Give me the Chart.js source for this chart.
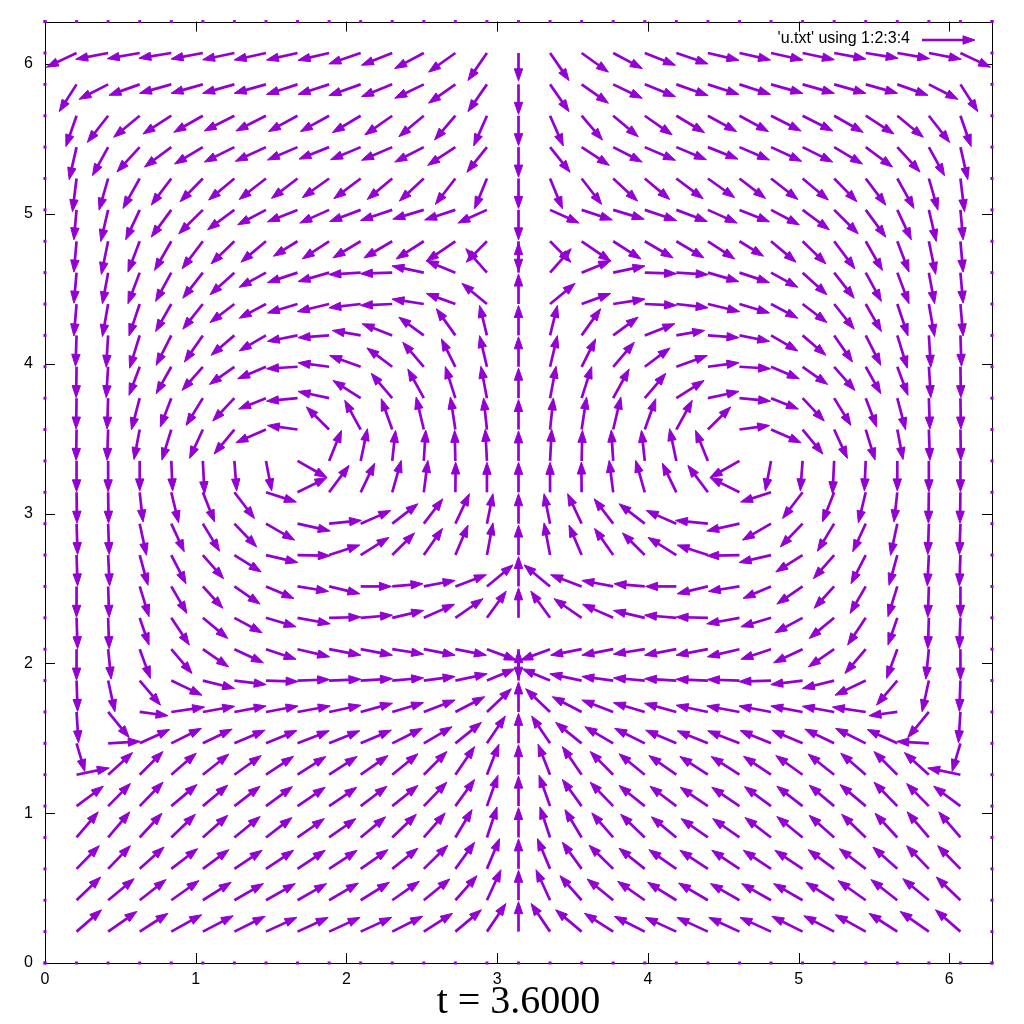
<!DOCTYPE html>
<html><head><meta charset="utf-8">
<script src="https://cdn.jsdelivr.net/npm/chart.js@4/dist/chart.umd.min.js"></script>
<style>html,body{margin:0;padding:0;background:#fff}canvas{display:block}</style>
</head><body>
<canvas id="c" width="1024" height="1024" style="width:1024px;height:1024px"></canvas>
<script>
// grid coordinates (columns 1:2 of u.txt), 0 .. 2*pi in 30 steps
const gridPts = [0,0.2094,0.4189,0.6283,0.8378,1.0472,1.2566,1.4661,1.6755,1.8850,2.0944,2.3038,2.5133,2.7227,2.9322,3.1416,3.3510,3.5605,3.7699,3.9794,4.1888,4.3982,4.6077,4.8171,5.0265,5.2360,5.4454,5.6549,5.8643,6.0737,6.2832];
const xTickVals = [0,1,2,3,4,5,6];
const yTickVals = [0,1,2,3,4,5,6];
const legendLabel = "'u.txt' using 1:2:3:4";
const titleText = "t = 3.6000";
// column 3 (u) – rows bottom (y index 1) to top (y index 29), interior columns x index 1..29
const U = [
[.166,.191,.188,.202,.202,.204,.206,.204,.206,.206,.202,.191,.173,.126,0,-.126,-.173,-.191,-.202,-.206,-.206,-.204,-.206,-.204,-.202,-.202,-.188,-.191,-.166],
[.160,.173,.175,.184,.188,.193,.195,.193,.195,.191,.180,.173,.144,.093,0,-.093,-.144,-.173,-.180,-.191,-.195,-.193,-.195,-.193,-.188,-.184,-.175,-.173,-.160],
[.151,.148,.162,.175,.173,.184,.184,.184,.186,.182,.171,.160,.128,.084,0,-.084,-.128,-.160,-.171,-.182,-.186,-.184,-.184,-.184,-.173,-.175,-.162,-.148,-.151],
[.144,.144,.148,.160,.166,.171,.173,.178,.178,.166,.160,.142,.111,.067,0,-.067,-.111,-.142,-.160,-.166,-.178,-.178,-.173,-.171,-.166,-.160,-.148,-.144,-.144],
[.178,.148,.155,.171,.166,.171,.176,.184,.184,.175,.171,.153,.128,.073,0,-.073,-.128,-.153,-.171,-.175,-.184,-.184,-.176,-.171,-.166,-.171,-.155,-.148,-.178],
[.217,.162,.155,.166,.173,.178,.183,.188,.186,.182,.171,.153,.128,.080,0,-.080,-.128,-.153,-.171,-.182,-.186,-.188,-.183,-.178,-.173,-.166,-.155,-.162,-.217],
[.055,.213,.200,.200,.195,.204,.206,.211,.204,.204,.200,.188,.173,.122,0,-.122,-.173,-.188,-.200,-.204,-.204,-.211,-.206,-.204,-.195,-.200,-.200,-.213,-.055],
[.013,.140,.188,.221,.211,.211,.213,.217,.211,.211,.208,.208,.195,.162,0,-.162,-.195,-.208,-.208,-.211,-.211,-.217,-.213,-.211,-.211,-.221,-.188,-.140,-.013],
[.007,.045,.138,.204,.211,.211,.213,.213,.211,.211,.208,.208,.211,.184,0,-.184,-.211,-.208,-.208,-.211,-.211,-.213,-.213,-.211,-.211,-.204,-.138,-.045,-.007],
[0,.020,.071,.138,.171,.193,.200,.213,.211,.211,.208,.208,.206,.195,0,-.195,-.206,-.208,-.208,-.211,-.211,-.213,-.200,-.193,-.171,-.138,-.071,-.020,0],
[.007,.007,.062,.120,.166,.184,.200,.217,.211,.211,.208,.204,.184,.128,0,-.128,-.184,-.204,-.208,-.211,-.211,-.217,-.200,-.184,-.166,-.120,-.062,-.007,-.007],
[0,.007,.062,.104,.133,.171,.186,.206,.204,.204,.204,.208,.206,.173,0,-.173,-.206,-.208,-.204,-.204,-.204,-.206,-.186,-.171,-.133,-.104,-.062,-.007,0],
[.007,.010,.055,.098,.138,.178,.212,.217,.204,.188,.148,.124,.084,.040,0,-.040,-.084,-.124,-.148,-.188,-.204,-.217,-.212,-.178,-.138,-.098,-.055,-.010,-.007],
[.007,.007,.045,.086,.111,.148,.190,.217,.215,.200,.171,.126,.093,.040,0,-.040,-.093,-.126,-.171,-.200,-.215,-.217,-.190,-.148,-.111,-.086,-.045,-.007,-.007],
[.003,.003,.022,.049,.078,.133,.202,.195,.133,.093,.060,.027,.002,0,0,0,-.002,-.027,-.060,-.093,-.133,-.195,-.202,-.133,-.078,-.049,-.022,-.003,-.003],
[0,0,0,.009,.011,.015,.038,.195,.082,.045,.022,.013,-.005,-.011,0,.011,.005,-.013,-.022,-.045,-.082,-.195,-.038,-.015,-.011,-.009,0,0,0],
[-.003,-.007,-.038,-.062,-.088,-.135,-.200,-.200,-.151,-.106,-.073,-.051,-.033,-.022,0,.022,.033,.051,.073,.106,.151,.200,.200,.135,.088,.062,.038,.007,.003],
[-.003,-.007,-.055,-.073,-.111,-.144,-.182,-.206,-.206,-.184,-.140,-.106,-.067,-.040,0,.040,.067,.106,.140,.184,.206,.206,.182,.144,.111,.073,.055,.007,.003],
[-.003,-.013,-.071,-.100,-.138,-.166,-.188,-.206,-.206,-.206,-.168,-.140,-.093,-.049,0,.049,.093,.140,.168,.206,.206,.206,.188,.166,.138,.100,.071,.013,.003],
[-.007,-.013,-.067,-.100,-.122,-.155,-.178,-.200,-.206,-.188,-.200,-.166,-.126,-.049,0,.049,.126,.166,.200,.188,.206,.200,.178,.155,.122,.100,.067,.013,.007],
[-.018,-.038,-.071,-.104,-.133,-.162,-.178,-.200,-.211,-.211,-.211,-.211,-.193,-.166,0,.166,.193,.211,.211,.211,.211,.200,.178,.162,.133,.104,.071,.038,.018],
[-.018,-.038,-.078,-.104,-.133,-.162,-.178,-.200,-.206,-.211,-.211,-.211,-.193,-.140,0,.140,.193,.211,.211,.211,.206,.200,.178,.162,.133,.104,.078,.038,.018],
[-.018,-.045,-.078,-.111,-.138,-.155,-.166,-.160,-.178,-.184,-.188,-.184,-.193,-.138,0,.138,.193,.184,.188,.184,.178,.160,.166,.155,.138,.111,.078,.045,.018],
[-.018,-.049,-.093,-.133,-.160,-.178,-.188,-.200,-.195,-.206,-.211,-.206,-.204,-.193,0,.193,.204,.206,.211,.206,.195,.200,.188,.178,.160,.133,.093,.049,.018],
[-.027,-.060,-.111,-.133,-.151,-.171,-.178,-.173,-.178,-.178,-.166,-.162,-.133,-.082,0,.082,.133,.162,.166,.178,.178,.173,.178,.171,.151,.133,.111,.060,.027],
[-.049,-.104,-.151,-.178,-.188,-.200,-.204,-.200,-.200,-.200,-.204,-.193,-.184,-.133,0,.133,.184,.193,.204,.200,.200,.200,.204,.200,.188,.178,.151,.104,.049],
[-.071,-.138,-.173,-.188,-.193,-.200,-.200,-.193,-.191,-.188,-.182,-.166,-.138,-.088,0,.088,.138,.166,.182,.188,.191,.193,.200,.200,.193,.188,.173,.138,.071],
[-.115,-.193,-.204,-.211,-.211,-.211,-.211,-.206,-.206,-.211,-.204,-.193,-.178,-.126,0,.126,.178,.193,.204,.211,.206,.206,.211,.211,.211,.211,.204,.193,.115],
[-.200,-.215,-.215,-.215,-.211,-.211,-.211,-.206,-.206,-.211,-.204,-.193,-.178,-.126,0,.126,.178,.193,.204,.211,.206,.206,.211,.211,.211,.215,.215,.215,.200]
];
// column 4 (v)
const V = [
[.146,.135,.122,.113,.106,.102,.095,.095,.095,.095,.102,.122,.146,.188,.200,.188,.146,.122,.102,.095,.095,.095,.095,.102,.106,.113,.122,.135,.146],
[.155,.144,.138,.131,.120,.111,.111,.111,.115,.120,.126,.142,.164,.204,.200,.204,.164,.142,.126,.120,.115,.111,.111,.111,.120,.131,.138,.144,.155],
[.155,.155,.146,.135,.128,.124,.124,.124,.124,.128,.138,.158,.178,.202,.200,.202,.178,.158,.138,.128,.124,.124,.124,.124,.128,.135,.146,.155,.155],
[.171,.171,.162,.155,.148,.140,.133,.126,.126,.138,.155,.164,.186,.204,.200,.204,.186,.164,.155,.138,.126,.126,.133,.140,.148,.155,.162,.171,.171],
[.133,.151,.160,.144,.140,.133,.130,.126,.126,.133,.138,.160,.178,.206,.200,.206,.178,.160,.138,.133,.126,.126,.130,.133,.140,.144,.160,.151,.133],
[.045,.148,.155,.144,.138,.128,.123,.122,.122,.128,.140,.155,.188,.204,.200,.204,.188,.155,.140,.128,.122,.122,.123,.128,.138,.144,.155,.148,.045],
[-.188,.013,.093,.100,.095,.088,.086,.084,.084,.088,.100,.111,.140,.182,.200,.182,.140,.111,.100,.088,.084,.084,.086,.088,.095,.100,.093,.013,-.188],
[-.206,-.171,-.025,.033,.038,.040,.040,.040,.045,.058,.062,.080,.102,.155,.200,.155,.102,.080,.062,.058,.045,.040,.040,.040,.038,.033,-.025,-.171,-.206],
[-.206,-.208,-.164,-.098,-.053,-.027,-.007,.007,.009,.013,.018,.027,.045,.078,.200,.078,.045,.027,.018,.013,.009,.007,-.007,-.027,-.053,-.098,-.164,-.208,-.206],
[-.206,-.200,-.195,-.162,-.118,-.091,-.067,-.051,-.040,-.040,-.033,-.040,-.040,-.073,-.200,-.073,-.040,-.040,-.033,-.040,-.040,-.051,-.067,-.091,-.118,-.162,-.195,-.200,-.206],
[-.206,-.206,-.182,-.182,-.138,-.100,-.060,-.040,.005,.018,.049,.091,.128,.178,.200,.178,.128,.091,.049,.018,.005,-.040,-.060,-.100,-.138,-.182,-.182,-.206,-.206],
[-.206,-.206,-.202,-.180,-.146,-.118,-.080,-.033,-.049,0,.018,.040,.078,.144,.200,.144,.078,.040,.018,0,-.049,-.033,-.080,-.118,-.146,-.180,-.202,-.206,-.206],
[-.206,-.206,-.202,-.191,-.158,-.113,-.050,-.005,.067,.118,.148,.178,.200,.215,.200,.215,.200,.178,.148,.118,.067,-.005,-.050,-.113,-.158,-.191,-.202,-.206,-.206],
[-.206,-.206,-.211,-.188,-.184,-.155,-.110,-.049,.022,.088,.133,.166,.200,.200,.200,.200,.200,.166,.133,.088,.022,-.049,-.110,-.155,-.184,-.188,-.211,-.206,-.206],
[-.206,-.206,-.198,-.204,-.198,-.175,-.065,.098,.180,.195,.213,.213,.202,.200,.200,.200,.202,.213,.213,.195,.180,.098,-.065,-.175,-.198,-.204,-.198,-.206,-.206],
[-.206,-.206,-.200,-.200,-.219,-.200,-.200,-.111,.204,.215,.204,.206,.204,.211,.200,.211,.204,.206,.204,.215,.204,-.111,-.200,-.200,-.219,-.200,-.200,-.206,-.206],
[-.206,-.206,-.200,-.204,-.193,-.164,-.088,.027,.151,.195,.206,.217,.217,.211,.200,.211,.217,.217,.206,.195,.151,.027,-.088,-.164,-.193,-.204,-.200,-.206,-.206],
[-.206,-.206,-.211,-.193,-.182,-.153,-.073,-.020,.045,.118,.166,.195,.211,.213,.200,.213,.211,.195,.166,.118,.045,-.020,-.073,-.153,-.182,-.193,-.211,-.206,-.206],
[-.206,-.206,-.191,-.180,-.158,-.118,-.080,-.013,.027,.075,.126,.164,.186,.208,.200,.208,.186,.164,.126,.075,.027,-.013,-.080,-.118,-.158,-.180,-.191,-.206,-.206],
[-.206,-.213,-.219,-.200,-.178,-.133,-.104,-.040,-.015,.033,.078,.122,.178,.200,.200,.200,.178,.122,.078,.033,-.015,-.040,-.104,-.133,-.178,-.200,-.219,-.213,-.206],
[-.213,-.217,-.213,-.184,-.168,-.124,-.095,-.060,-.051,-.025,-.009,.033,.071,.138,.200,.138,.071,.033,-.009,-.025,-.051,-.060,-.095,-.124,-.168,-.184,-.213,-.217,-.213],
[-.204,-.208,-.208,-.193,-.171,-.148,-.098,-.067,-.060,-.013,-.007,.045,.080,.160,.200,.160,.080,.045,-.007,-.013,-.060,-.067,-.098,-.148,-.171,-.193,-.208,-.208,-.204],
[-.206,-.221,-.206,-.195,-.184,-.151,-.140,-.100,-.118,-.111,-.111,-.118,-.133,-.140,-.200,-.140,-.133,-.118,-.111,-.111,-.118,-.100,-.140,-.151,-.184,-.195,-.206,-.221,-.206],
[-.200,-.211,-.200,-.182,-.160,-.133,-.100,-.080,-.088,-.078,-.071,-.062,-.067,-.088,-.200,-.088,-.067,-.062,-.071,-.078,-.088,-.080,-.100,-.133,-.160,-.182,-.200,-.211,-.200],
[-.221,-.211,-.200,-.178,-.155,-.144,-.140,-.133,-.128,-.135,-.140,-.151,-.173,-.202,-.200,-.202,-.173,-.151,-.140,-.135,-.128,-.133,-.140,-.144,-.155,-.178,-.200,-.211,-.221],
[-.217,-.191,-.166,-.133,-.113,-.100,-.095,-.086,-.080,-.084,-.088,-.100,-.122,-.168,-.200,-.168,-.122,-.100,-.088,-.084,-.080,-.086,-.095,-.100,-.113,-.133,-.166,-.191,-.217],
[-.206,-.178,-.144,-.122,-.111,-.102,-.102,-.106,-.106,-.113,-.128,-.140,-.162,-.202,-.200,-.202,-.162,-.140,-.128,-.113,-.106,-.106,-.102,-.102,-.111,-.122,-.144,-.178,-.206],
[-.182,-.100,-.073,-.060,-.060,-.060,-.060,-.067,-.067,-.075,-.082,-.093,-.126,-.182,-.200,-.182,-.126,-.093,-.082,-.075,-.067,-.067,-.060,-.060,-.060,-.060,-.073,-.100,-.182],
[-.095,-.042,-.038,-.035,-.040,-.045,-.047,-.047,-.049,-.073,-.082,-.104,-.128,-.184,-.186,-.184,-.128,-.104,-.082,-.073,-.049,-.047,-.047,-.045,-.040,-.035,-.038,-.042,-.095]
];

const COLOR = '#9400D3';

// table for the library: interior vectors + zero vectors on the walls
const vectors = [];
for (let j = 0; j < U.length; j++)
  for (let i = 0; i < U[j].length; i++)
    vectors.push({x: gridPts[i + 1], y: gridPts[j + 1], u: U[j][i], v: V[j][i]});
const last = gridPts.length - 1;
const wall = [];
for (let k = 0; k <= last; k++) {
  wall.push({x: gridPts[k], y: gridPts[0]}, {x: gridPts[k], y: gridPts[last]},
            {x: gridPts[0], y: gridPts[k]}, {x: gridPts[last], y: gridPts[k]});
}

function drawArrow(ctx, x0, y0, x1, y1) {
  const dx = x1 - x0, dy = y1 - y0, L = Math.hypot(dx, dy);
  if (L < 0.5) return;
  const ux = dx / L, uy = dy / L;
  const hl = 12, hw = 4.2;
  ctx.beginPath();
  ctx.moveTo(x0, y0);
  ctx.lineTo(x1 - ux * hl * 0.6, y1 - uy * hl * 0.6);
  ctx.stroke();
  const bx = x1 - ux * hl, by = y1 - uy * hl;
  ctx.beginPath();
  ctx.moveTo(x1, y1);
  ctx.lineTo(bx - uy * hw, by + ux * hw);
  ctx.lineTo(bx + uy * hw, by - ux * hw);
  ctx.closePath();
  ctx.fill();
  ctx.save(); ctx.lineWidth = 1; ctx.stroke(); ctx.restore();
}

const gnuplotPlugin = {
  id: 'gnuplotVectors',
  beforeDatasetsDraw(chart) {
    const {ctx, chartArea: a, scales: {x: xs, y: ys}} = chart;
    ctx.save();
    ctx.strokeStyle = '#000';
    ctx.lineWidth = 1;
    ctx.strokeRect(Math.round(a.left) + 0.5, Math.round(a.top) + 0.5,
                   Math.round(a.right - a.left), Math.round(a.bottom - a.top));
    ctx.beginPath();
    const tl = 10;
    xTickVals.forEach(v => {
      const p = Math.round(xs.getPixelForValue(v)) + 0.5;
      ctx.moveTo(p, a.bottom); ctx.lineTo(p, a.bottom - tl);
      ctx.moveTo(p, a.top); ctx.lineTo(p, a.top + tl);
    });
    yTickVals.forEach(v => {
      const p = Math.round(ys.getPixelForValue(v)) + 0.5;
      ctx.moveTo(a.left, p); ctx.lineTo(a.left + tl, p);
      ctx.moveTo(a.right, p); ctx.lineTo(a.right - tl, p);
    });
    ctx.stroke();
    ctx.restore();
  },
  afterDatasetsDraw(chart) {
    const {ctx, scales: {x: xs, y: ys}} = chart;
    ctx.save();
    ctx.strokeStyle = COLOR;
    ctx.fillStyle = COLOR;
    ctx.lineWidth = 2.7;
    ctx.lineCap = 'butt';
    ctx.lineJoin = 'miter';
    for (const p of chart.data.datasets[0].data) {
      drawArrow(ctx, xs.getPixelForValue(p.x), ys.getPixelForValue(p.y),
                xs.getPixelForValue(p.x + p.u), ys.getPixelForValue(p.y + p.v));
    }
    // key (legend) in the top-right corner
    ctx.fillStyle = '#000';
    ctx.font = '16px "Liberation Sans", Arial, sans-serif';
    ctx.textAlign = 'right';
    ctx.textBaseline = 'middle';
    ctx.fillText(chart.data.datasets[0].label, 910, 39);
    ctx.fillStyle = COLOR;
    drawArrow(ctx, 922, 40, 975, 40);
    ctx.restore();
  }
};

new Chart(document.getElementById('c'), {
  type: 'scatter',
  data: {
    datasets: [
      {label: legendLabel, data: vectors, pointRadius: 0, pointHoverRadius: 0, showLine: false},
      {label: 'walls', data: wall, pointStyle: 'rect', pointRadius: 2.1, pointHoverRadius: 2.1,
       backgroundColor: COLOR, borderWidth: 0, clip: false, showLine: false}
    ]
  },
  options: {
    responsive: false,
    animation: false,
    devicePixelRatio: 1,
    events: [],
    layout: {padding: {top: 20, right: 32, left: 0, bottom: 0}},
    plugins: {
      legend: {display: false},
      tooltip: {enabled: false},
      title: {
        display: true, position: 'bottom', fullSize: false, text: titleText, color: '#000',
        font: {family: '"Liberation Serif", "Times New Roman", serif', size: 40, weight: 'normal', lineHeight: 1},
        padding: {top: -11, bottom: 2}
      }
    },
    scales: {
      x: {
        type: 'linear', min: 0, max: 2 * Math.PI,
        afterBuildTicks: ax => { ax.ticks = xTickVals.map(v => ({value: v})); },
        afterFit: ax => { ax.height = 30; },
        grid: {display: false, drawTicks: false},
        border: {display: false},
        ticks: {padding: 7, color: '#000', autoSkip: false, maxRotation: 0,
                font: {family: '"Liberation Sans", Arial, sans-serif', size: 16},
                callback: v => String(v)}
      },
      y: {
        type: 'linear', min: 0, max: 2 * Math.PI,
        afterBuildTicks: ax => { ax.ticks = yTickVals.map(v => ({value: v})); },
        afterFit: ax => { ax.width = 45; },
        grid: {display: false, drawTicks: false},
        border: {display: false},
        ticks: {padding: 12, color: '#000', autoSkip: false,
                font: {family: '"Liberation Sans", Arial, sans-serif', size: 16},
                callback: v => String(v)}
      }
    }
  },
  plugins: [gnuplotPlugin]
});
</script>
</body></html>
